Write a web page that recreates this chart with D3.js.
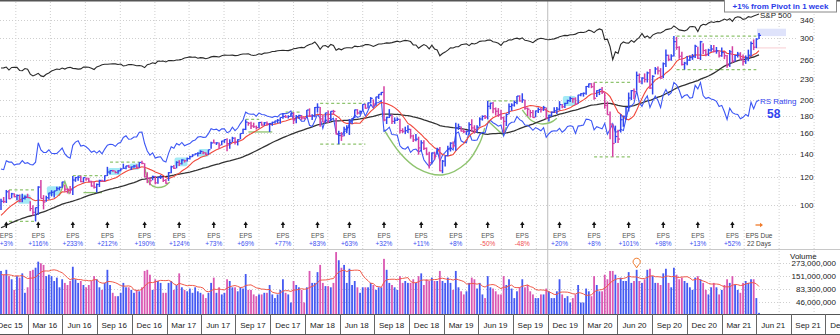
<!DOCTYPE html>
<html>
<head>
<meta charset="utf-8">
<script src="https://cdn.jsdelivr.net/npm/d3@7"></script>
<style>
  html, body { margin: 0; padding: 0; background: #fff; }
  svg { display: block; font-family: "Liberation Sans", Arial, sans-serif; }
</style>
</head>
<body>
<svg id="chart" width="840" height="335"></svg>
<script>
// ---- Weekly bars, week ending Fridays from 2015-10-23 to 2021-04-09 ----
const firstWeek = "2015-10-23";

const high = [
  // 2015
  103.8,105.1,110.1,110.0,108.0,107.7,106.9,106.8,107.4,106.1,107.4,
  // 2016
  102.2,99.5,98.0,112.8,117.6,106.4,106.0,108.1,109.9,109.5,112.5,112.6,116.3,114.0,111.3,113.0,120.8,119.9,121.0,120.9,
  119.7,119.5,119.4,117.0,116.4,114.9,117.8,117.8,121.3,128.3,125.2,125.7,125.0,125.4,127.0,131.0,129.2,130.0,128.5,129.8,
  130.4,132.3,133.5,131.4,123.8,119.5,121.0,120.8,120.1,121.5,119.9,118.3,
  // 2017
  123.9,129.3,129.9,133.1,133.9,134.8,134.5,136.5,138.0,139.4,140.2,141.2,143.1,142.3,141.2,143.8,151.5,153.6,151.0,150.7,
  152.5,153.9,155.0,153.9,156.5,155.9,154.0,160.0,165.0,175.5,172.6,173.0,171.9,168.6,172.5,173.0,172.5,173.3,171.4,172.9,
  174.0,176.0,177.9,182.9,180.8,180.5,183.0,184.2,180.8,181.0,180.8,178.0,
  // 2018
  187.0,188.9,181.6,190.7,195.3,190.6,180.5,183.4,186.1,185.4,187.0,177.2,162.9,161.4,167.3,168.8,176.0,177.1,187.3,187.9,
  186.3,194.1,194.6,196.3,203.5,200.4,203.9,207.4,210.4,218.6,178.9,187.9,181.5,177.9,177.9,176.2,165.6,167.3,168.8,165.0,
  158.7,159.3,156.6,153.0,152.9,145.9,141.7,141.0,141.8,145.5,146.2,134.2,
  // 2019
  138.1,147.4,150.9,151.7,171.7,170.7,167.6,164.8,163.1,172.2,175.8,168.9,168.9,178.0,180.3,180.9,198.5,196.2,197.0,190.0,
  189.2,187.3,179.0,182.7,195.0,195.3,198.9,204.9,206.0,208.7,199.8,190.0,187.0,186.8,186.2,190.0,189.5,192.0,190.0,181.2,
  185.0,190.2,190.5,198.1,194.3,196.0,200.0,203.8,202.7,203.1,206.7,208.9,
  // 2020
  209.8,218.9,222.6,223.2,224.2,213.0,214.6,217.4,209.8,197.7,185.1,170.0,168.5,164.0,181.9,180.0,190.5,209.7,213.3,215.5,
  240.9,237.9,232.0,238.0,240.9,245.2,235.2,248.2,249.1,246.5,255.9,278.9,269.5,270.0,304.7,302.9,284.8,274.7,257.0,267.0,
  267.9,270.7,287.6,284.0,295.2,290.6,279.3,280.2,287.2,287.4,283.5,275.2,282.4,
  // 2021
  275.0,268.8,277.9,284.9,268.9,274.4,273.9,269.7,268.0,278.5,294.0,298.0,300.4,310.9
];

const low = [
  // 2015
  96.5,100.9,101.0,103.5,104.2,104.8,102.9,101.5,101.5,103.4,104.4,
  // 2016
  95.7,93.0,89.4,93.4,104.0,96.8,101.8,103.3,105.5,104.7,109.3,109.8,111.8,108.8,107.6,107.6,106.4,116.2,117.0,115.8,
  115.7,117.1,116.0,112.5,111.1,108.2,112.3,116.0,116.6,120.7,122.1,124.2,122.9,122.6,124.5,126.6,126.2,127.5,125.6,127.6,
  126.6,127.6,130.4,119.8,115.2,113.6,117.4,114.3,114.7,118.4,116.1,114.8,
  // 2017
  116.9,123.0,126.4,127.0,129.0,130.2,132.0,133.0,134.6,136.8,138.4,137.3,139.7,139.4,138.8,139.0,144.6,149.9,148.3,144.4,
  147.9,150.3,142.2,144.6,151.2,148.6,147.8,153.9,159.5,163.6,168.4,164.9,166.0,164.2,165.5,168.4,168.6,168.5,161.6,168.3,
  171.0,171.2,170.6,176.2,177.3,176.5,178.5,170.2,171.2,176.4,175.0,175.8,
  // 2018
  177.6,178.7,174.8,178.0,183.7,167.2,172.3,171.6,171.5,173.7,181.2,159.0,149.0,152.3,157.1,160.3,158.4,170.2,177.0,181.2,
  181.4,186.6,188.4,189.0,195.6,190.2,192.2,201.0,205.9,173.5,170.3,177.2,170.3,170.5,173.7,160.0,160.5,159.3,160.4,154.6,
  151.1,152.0,139.0,142.3,143.5,138.5,126.9,131.2,134.5,139.1,124.6,123.0,
  // 2019
  128.6,137.5,142.0,145.3,142.8,163.8,162.0,160.3,158.3,161.2,161.6,159.9,160.8,167.5,174.2,176.0,175.5,187.8,182.8,180.0,
  178.6,175.2,160.8,168.0,181.6,185.9,191.1,194.0,197.5,196.0,187.1,179.6,177.8,177.4,178.0,183.1,183.8,185.7,176.0,173.3,
  178.8,183.2,182.0,186.3,189.0,189.4,194.5,197.0,196.0,193.2,194.6,204.7,
  // 2020
  204.1,206.8,216.5,215.9,200.1,203.5,206.2,207.7,188.5,181.0,154.0,137.1,150.3,150.3,161.0,167.2,175.0,185.0,199.5,200.5,
  212.2,223.8,221.6,224.2,224.1,214.8,207.1,236.5,236.3,229.7,230.7,248.5,258.1,259.0,266.3,278.2,262.2,250.7,244.1,251.4,
  258.2,260.3,263.7,261.8,260.0,270.4,266.5,267.0,274.7,273.4,271.2,264.3,265.6,
  // 2021
  261.5,247.0,248.5,255.4,257.3,264.4,259.8,250.8,253.5,258.0,266.0,277.7,281.2,299.0
];

const close = [
  // 2015
  102.19,101.97,108.76,103.94,107.32,105.45,106.18,102.24,104.04,105.02,104.66,
  // 2016
  97.33,94.97,97.94,112.21,104.07,101.61,104.57,107.92,108.39,109.41,111.02,112.05,116.06,110.63,110.51,110.10,117.58,119.49,119.81,116.35,
  119.47,118.47,116.62,113.02,112.08,114.19,117.24,116.86,121.00,123.94,125.15,124.96,123.56,124.96,126.51,127.10,129.07,127.96,128.27,128.99,
  127.88,132.07,131.29,120.00,119.02,117.02,120.38,115.40,119.68,119.87,117.27,115.05,
  // 2017
  123.41,128.34,127.04,132.18,130.98,134.19,133.53,135.44,137.17,138.71,139.84,140.34,142.05,140.78,139.39,143.68,150.25,150.24,150.33,148.06,
  152.13,153.63,149.60,150.64,155.07,150.98,153.50,159.97,164.43,172.45,171.18,168.08,167.24,166.32,172.02,169.15,171.64,170.54,170.87,172.23,
  173.74,174.60,177.88,178.92,178.46,179.00,182.78,175.10,179.00,180.18,177.20,176.46,
  // 2018
  186.85,179.37,179.51,190.00,190.28,176.11,172.43,183.29,176.62,185.23,185.09,159.39,159.79,157.20,164.52,166.28,173.59,176.61,186.99,183.20,
  184.92,193.99,189.10,195.85,201.74,194.32,203.70,207.32,209.94,174.89,177.78,180.26,173.29,174.65,175.73,163.04,162.32,162.93,164.46,157.33,
  153.35,154.05,145.37,150.35,144.96,139.53,131.73,140.61,137.42,144.06,124.95,133.20,
  // 2019
  138.05,144.20,150.04,147.47,165.71,167.33,162.50,161.89,162.28,169.60,165.98,164.34,166.69,176.02,179.10,178.28,191.49,195.47,188.34,185.30,
  180.87,177.47,173.35,181.33,191.14,193.00,196.40,204.87,198.36,199.75,189.02,187.85,183.70,177.75,185.67,187.49,187.19,189.93,177.10,180.45,
  184.19,185.85,187.89,193.62,190.84,195.10,198.82,201.64,201.05,194.11,206.30,208.10,
  // 2020
  208.67,218.30,222.14,217.94,201.91,212.33,214.18,210.18,192.47,181.09,170.28,149.73,156.79,154.18,175.19,179.24,190.07,202.27,212.35,210.88,
  234.91,225.09,230.77,228.58,238.79,216.08,233.42,245.07,242.03,230.71,253.67,268.44,261.24,267.01,293.66,282.73,266.61,252.53,254.82,259.90,
  264.45,265.93,284.79,263.11,293.41,276.95,269.70,277.81,279.70,275.55,276.40,267.40,273.16,
  // 2021
  267.57,251.36,274.50,258.33,268.10,270.50,261.69,257.62,264.28,268.40,290.11,283.02,298.66,306.18
];

// weekly volume, millions of shares
const volume = [
  // 2015
  190,160,200,150,130,80,150,140,170,70,90,
  // 2016
  190,200,220,290,270,250,150,160,150,120,140,90,130,110,100,120,230,130,110,120,
  100,90,100,120,150,130,90,80,110,200,100,70,60,60,70,110,90,90,80,70,
  80,75,90,190,200,160,80,130,120,110,70,70,
  // 2017
  110,120,80,100,170,90,80,75,85,70,90,75,70,65,55,70,110,140,70,90,
  65,70,130,120,90,90,75,90,85,165,80,80,65,60,65,65,70,70,100,65,
  55,65,80,130,70,65,45,120,100,90,80,45,
  // 2018
  90,190,110,110,180,250,110,95,95,90,110,450,310,220,250,110,210,100,120,90,
  70,90,90,90,110,100,80,90,90,330,200,110,100,90,80,150,110,120,110,110,
  130,110,150,170,100,130,120,140,120,120,190,120,
  // 2019
  110,140,110,80,190,90,75,65,75,110,140,130,85,110,65,55,150,90,85,75,
  65,65,150,100,130,85,55,75,90,130,90,100,75,65,55,55,65,65,85,75,
  55,55,75,130,65,55,60,45,55,65,100,45,
  // 2020
  45,85,75,60,150,100,75,75,160,130,190,190,160,110,140,120,120,180,110,120,
  200,120,110,130,200,210,150,110,110,100,170,210,110,90,220,160,130,140,120,110,
  90,80,140,150,130,110,80,65,90,110,90,65,80,
  // 2021
  100,130,110,150,100,80,70,110,120,110,130,130,55,28
];

// S&P 500 weekly closes, same weeks
const sp500 = [
  // 2015
  2075,2079,2099,2023,2089,2090,2092,2012,2006,2061,2044,
  // 2016
  1922,1880,1907,1940,1880,1865,1918,1948,1999,2022,2050,2036,2073,2048,2081,2092,2065,2058,2047,2052,
  2099,2099,2096,2071,2037,2103,2130,2162,2175,2174,2183,2184,2184,2169,2180,2128,2139,2165,2168,2153,
  2133,2141,2126,2085,2164,2182,2213,2192,2260,2258,2264,2239,
  // 2017
  2277,2275,2271,2295,2297,2316,2351,2367,2383,2373,2378,2344,2363,2355,2329,2349,2384,2399,2391,2382,
  2416,2439,2432,2433,2438,2423,2425,2459,2473,2472,2477,2441,2426,2443,2477,2461,2500,2502,2519,2549,
  2553,2575,2581,2588,2582,2578,2602,2642,2652,2675,2684,2674,
  // 2018
  2743,2786,2810,2873,2762,2620,2732,2747,2691,2786,2752,2588,2641,2604,2656,2670,2670,2663,2728,2712,
  2721,2735,2779,2780,2755,2718,2760,2801,2802,2819,2840,2833,2850,2875,2902,2872,2905,2930,2914,2886,
  2767,2768,2659,2723,2781,2736,2633,2760,2633,2600,2417,2486,
  // 2019
  2532,2596,2671,2665,2707,2708,2776,2793,2804,2743,2822,2800,2834,2893,2907,2905,2940,2946,2881,2860,
  2826,2752,2873,2887,2950,2942,2990,3014,2977,3026,2932,2919,2889,2847,2926,2979,3007,2992,2962,2952,
  2970,2986,3023,3067,3093,3120,3110,3141,3146,3169,3221,3240,
  // 2020
  3235,3265,3330,3295,3226,3328,3380,3338,2954,2972,2711,2305,2541,2489,2790,2875,2837,2831,2930,2864,
  2955,3044,3194,3041,3098,3009,3130,3185,3225,3216,3271,3351,3373,3397,3508,3427,3341,3319,3298,3348,
  3477,3484,3465,3270,3510,3585,3558,3638,3699,3663,3709,3703,3756,
  // 2021
  3825,3768,3841,3714,3887,3934,3907,3811,3842,3943,3913,3975,4020,4074
];

// closes and volumes of the weeks before the first bar (seed the moving averages)
const priorClose = [
  77.65,75.91,74.99,75.74,80.20,78.97,80.01,78.05,83.80,83.01,81.56,82.04,82.04,84.63,78.81,78.10,80.41,80.55,79.19,82.44,
  81.28,82.51,87.61,87.55,87.95,94.97,96.95,94.01,94.30,94.19,86.06,91.01,88.26,92.90,94.40,92.77,92.07,93.24,97.54
];
const priorVolume = [160,210,150,160,140,130,150,140,170];

// earnings reports
const epsDates = [
  "2015-11-04","2016-01-27","2016-04-27","2016-07-27","2016-11-02","2017-02-01","2017-05-03","2017-07-26",
  "2017-11-01","2018-01-31","2018-04-25","2018-07-25","2018-10-30","2019-01-30","2019-04-24","2019-07-24",
  "2019-10-30","2020-01-29","2020-04-29","2020-07-30","2020-10-29","2021-01-27"
];
const epsChange = [3,116,233,212,190,124,73,69,77,83,63,32,11,8,-50,-48,20,8,101,98,13,52];
const epsDueDays = 22;

// axis ticks
const priceTicks = [100,120,140,160,180,200,230,260,300,340];
const volumeTicks = [46e6, 83.3e6, 151e6, 273e6];

// base annotations: [from, to, price, style]
const baseLines = [
  ["2015-11-13","2016-01-22",110.1,"dash"],
  ["2015-11-13","2016-01-22",89.4,"dash"],
  ["2016-04-29","2016-07-15",121.0,"dash"],
  ["2016-05-27","2016-07-15",108.2,"solid"],
  ["2016-08-05","2016-10-21",132.3,"dash"],
  ["2017-07-28","2017-09-01",175.5,"dash"],
  ["2017-08-04","2017-10-06",161.6,"solid"],
  ["2017-11-10","2017-12-22",184.2,"dash"],
  ["2018-02-09","2018-06-08",195.3,"dash"],
  ["2018-02-09","2018-06-08",149.0,"dash"],
  ["2019-04-26","2019-07-19",198.5,"dash"],
  ["2020-01-31","2020-05-08",224.2,"dash"],
  ["2020-01-31","2020-05-08",137.1,"dash"],
  ["2020-09-04","2021-04-02",304.7,"dash"],
  ["2020-09-04","2021-04-02",244.1,"dash"]
];
// curved pattern outlines: [date, price] points
const cupPaths = [
  { smooth: false, pts: [["2016-03-24",106],["2016-04-08",116.5],["2016-04-20",107]] },
  { smooth: true,  pts: [["2016-11-04",128],["2016-11-17",115],["2016-12-05",112],["2016-12-27",113],["2017-01-09",116]] },
  { smooth: true,  pts: [["2018-07-27",164],["2018-09-07",140.6],["2018-10-22",127.3],["2018-12-28",121.6],["2019-03-01",131.6],["2019-04-05",150.3],["2019-04-18",166]] },
  { smooth: false, pts: [["2019-04-26",174],["2019-06-05",158.5],["2019-06-14",167]] },
  { smooth: true,  pts: [["2019-07-26",187],["2019-08-20",174],["2019-09-13",170.5],["2019-10-08",172],["2019-10-25",177]] }
];
// tight weekly closes
const tightRanges = [
  ["2015-12-11","2015-12-31"],["2016-02-26","2016-03-18"],["2016-08-05","2016-08-26"],["2016-09-30","2016-10-14"],
  ["2017-01-27","2017-02-17"],["2017-03-31","2017-04-13"],["2019-11-15","2019-12-06"]
];
const pivotPrice = 304.7;
const rsRating = 58;
const markerWeek = "2020-05-22";
const dividerDate = "2019-10-01";

// ---------------- drawing ----------------
const W = 840, H = 335;
const VOL_TOP = 250, VOL_BOTTOM = 314, AXIS_BOTTOM = 334;
const BLUE = "#3146ee", PINK = "#d43fa2", VBLUE = "#4459f2", VPINK = "#da58b2";
const GREEN = "#8fc46f", GRID = "#cfcfcf";

const parse = d3.utcParse("%Y-%m-%d");
const t0 = parse(firstWeek);
const weeks = close.map((c, i) => d3.utcDay.offset(t0, 7 * i));
const lastWeek = weeks[weeks.length - 1];

const x = d3.scaleUtc().domain([t0, lastWeek]).range([1, 759]);
const yP = d3.scaleLog().domain([100, 340]).range([204.5, 19.5]);
const ySP = d3.scaleLog().domain([sp500[0], sp500[sp500.length - 1]]).range([68, 14]);
const rs = close.map((c, i) => c / sp500[i]);
const yRS = d3.scaleLog().domain([rs[0], rs[rs.length - 1]]).range([169, 100]);
const yV = d3.scaleLog().domain([46e6, 273e6]).range([302, 263]);

const svg = d3.select("#chart");
svg.append("rect").attr("width", W).attr("height", H).attr("fill", "#fff");

// vertical quarter gridlines (first of Mar/Jun/Sep/Dec)
const gridMonths = d3.utcMonths(parse("2015-09-01"), parse("2022-01-01"))
  .filter(d => [2, 5, 8, 11].includes(d.getUTCMonth()));
svg.append("g").selectAll("line").data(gridMonths).join("line")
  .attr("x1", d => x(d)).attr("x2", d => x(d))
  .attr("y1", 2).attr("y2", VOL_BOTTOM)
  .attr("stroke", GRID).attr("stroke-width", 1).attr("stroke-dasharray", "1,2");

// horizontal price gridlines + labels
const gP = svg.append("g");
gP.selectAll("line").data(priceTicks).join("line")
  .attr("x1", 0).attr("x2", 796)
  .attr("y1", d => Math.round(yP(d)) + 0.5).attr("y2", d => Math.round(yP(d)) + 0.5)
  .attr("stroke", GRID).attr("stroke-dasharray", "1,2");
gP.selectAll("text").data(priceTicks).join("text")
  .attr("x", 800).attr("y", d => yP(d) + 3)
  .attr("font-size", 8).attr("fill", "#222").text(d => d);

// volume pane frame, gridlines, labels
svg.append("line").attr("x1", 0).attr("x2", W).attr("y1", VOL_TOP - 0.5).attr("y2", VOL_TOP - 0.5)
  .attr("stroke", "#c8c8c8");
const gV = svg.append("g");
gV.selectAll("line").data(volumeTicks).join("line")
  .attr("x1", 0).attr("x2", 790)
  .attr("y1", d => Math.round(yV(d)) + 0.5).attr("y2", d => Math.round(yV(d)) + 0.5)
  .attr("stroke", GRID).attr("stroke-dasharray", "1,2");
gV.selectAll("text").data(volumeTicks).join("text")
  .attr("x", 836).attr("y", d => yV(d) + 3).attr("text-anchor", "end")
  .attr("font-size", 8).attr("fill", "#222").text(d => d3.format(",")(d));
gV.append("text").attr("x", 790).attr("y", 258.5).attr("font-size", 8).attr("fill", "#222").text("Volume");

// divider line
svg.append("line").attr("x1", x(parse(dividerDate))).attr("x2", x(parse(dividerDate)))
  .attr("y1", 1).attr("y2", VOL_BOTTOM).attr("stroke", "#bdbdbd").attr("stroke-width", 1);

// S&P 500 line
svg.append("path").datum(sp500)
  .attr("d", d3.line().x((d, i) => x(weeks[i])).y(d => ySP(d)))
  .attr("fill", "none").attr("stroke", "#2a2a2a").attr("stroke-width", 1.1);
svg.append("text").attr("x", 760).attr("y", 18).attr("font-size", 8).attr("fill", "#222").text("S&P 500");

// buy zone / sell zone boxes beyond last bar
svg.append("rect").attr("x", 757).attr("width", 29)
  .attr("y", yP(pivotPrice * 1.05)).attr("height", yP(pivotPrice) - yP(pivotPrice * 1.05))
  .attr("fill", "#dfe3fb");
svg.append("rect").attr("x", 757).attr("width", 29)
  .attr("y", yP(pivotPrice * 0.93)).attr("height", yP(pivotPrice * 0.92) - yP(pivotPrice * 0.93))
  .attr("fill", "#fbe1e4");

// tight-area highlights
const idxOf = s => d3.bisectLeft(weeks, parse(s));
tightRanges.forEach(([a, b]) => {
  const i0 = idxOf(a), i1 = idxOf(b);
  const cs = close.slice(i0, i1 + 1);
  const yTop = yP(d3.max(cs)) - 2.5, yBot = yP(d3.min(cs)) + 2.5;
  svg.append("rect").attr("x", x(weeks[i0]) - 2).attr("width", x(weeks[i1]) - x(weeks[i0]) + 5)
    .attr("y", yTop).attr("height", yBot - yTop).attr("rx", 2)
    .attr("fill", "#93e6f3").attr("opacity", 0.85);
});

// base lines
svg.append("g").selectAll("line").data(baseLines).join("line")
  .attr("x1", d => x(parse(d[0]))).attr("x2", d => x(parse(d[1])))
  .attr("y1", d => yP(d[2])).attr("y2", d => yP(d[2]))
  .attr("stroke", GREEN).attr("stroke-width", 1.3)
  .attr("stroke-dasharray", d => d[3] === "dash" ? "3,2.5" : null);

// cup outlines
cupPaths.forEach(c => {
  svg.append("path").datum(c.pts)
    .attr("d", d3.line().x(d => x(parse(d[0]))).y(d => yP(d[1]))
      .curve(c.smooth ? d3.curveCatmullRom : d3.curveLinear))
    .attr("fill", "none").attr("stroke", GREEN).attr("stroke-width", 1.4);
});

// moving averages
const allClose = priorClose.concat(close);
const n0 = priorClose.length;
const sma = n => close.map((c, i) => d3.mean(allClose.slice(i + n0 - n + 1, i + n0 + 1)));
const ma10 = sma(10), ma40 = sma(40);
const lineP = d3.line().x((d, i) => x(weeks[i])).y(d => yP(d));
svg.append("path").datum(ma40).attr("d", lineP)
  .attr("fill", "none").attr("stroke", "#333").attr("stroke-width", 1.3);

// RS line
svg.append("path").datum(rs)
  .attr("d", d3.line().x((d, i) => x(weeks[i])).y(d => yRS(d)))
  .attr("fill", "none").attr("stroke", "#3d57f4").attr("stroke-width", 1.1);

svg.append("path").datum(ma10).attr("d", lineP)
  .attr("fill", "none").attr("stroke", "#f0483c").attr("stroke-width", 1.1);

// price bars
const prevClose = i => i === 0 ? priorClose[n0 - 1] : close[i - 1];
const up = close.map((c, i) => c >= prevClose(i));
const gB = svg.append("g");
gB.selectAll("line.hl").data(close).join("line").attr("class", "hl")
  .attr("x1", (d, i) => x(weeks[i])).attr("x2", (d, i) => x(weeks[i]))
  .attr("y1", (d, i) => yP(high[i])).attr("y2", (d, i) => yP(low[i]))
  .attr("stroke", (d, i) => up[i] ? BLUE : PINK).attr("stroke-width", 1.5);
gB.selectAll("line.cl").data(close).join("line").attr("class", "cl")
  .attr("x1", (d, i) => x(weeks[i])).attr("x2", (d, i) => x(weeks[i]) + 2)
  .attr("y1", d => yP(d)).attr("y2", d => yP(d))
  .attr("stroke", (d, i) => up[i] ? BLUE : PINK).attr("stroke-width", 1.2);

// RS rating
svg.append("text").attr("x", 760).attr("y", 104).attr("font-size", 8).attr("fill", "#3344ee").text("RS Rating");
svg.append("text").attr("x", 767).attr("y", 118).attr("font-size", 12).attr("font-weight", "bold")
  .attr("fill", "#3344ee").text(rsRating);

// earnings row
const gE = svg.append("g");
epsDates.forEach((s, i) => {
  const xe = x(d3.utcFriday.ceil(parse(s)));
  gE.append("path").attr("d", `M${xe - 2.2},225 L${xe},221.5 L${xe + 2.2},225 Z`).attr("fill", "#111");
  gE.append("rect").attr("x", xe - 0.7).attr("y", 224.5).attr("width", 1.4).attr("height", 3.5).attr("fill", "#111");
  gE.append("text").attr("x", xe).attr("y", 238).attr("text-anchor", "middle")
    .attr("font-size", 6.5).attr("fill", "#555").text("EPS");
  const v = epsChange[i];
  gE.append("text").attr("x", xe).attr("y", 245.5).attr("text-anchor", "middle")
    .attr("font-size", 6.5).attr("fill", v < 0 ? "#f05050" : "#3a4ff0")
    .text((v < 0 ? "-" : "+") + Math.abs(v) + "%");
});
{
  const xd = x(lastWeek);
  gE.append("line").attr("x1", xd - 3.5).attr("x2", xd + 2).attr("y1", 225).attr("y2", 225)
    .attr("stroke", "#f07a2a").attr("stroke-width", 1.3);
  gE.append("path").attr("d", `M${xd + 1},222.8 L${xd + 4},225 L${xd + 1},227.2 Z`).attr("fill", "#f07a2a");
  gE.append("text").attr("x", xd).attr("y", 238).attr("text-anchor", "middle")
    .attr("font-size", 6.5).attr("fill", "#444").text("EPS Due");
  gE.append("text").attr("x", xd).attr("y", 245.5).attr("text-anchor", "middle")
    .attr("font-size", 6.5).attr("fill", "#444").text(epsDueDays + " Days");
}

// volume bars
const gVol = svg.append("g");
gVol.selectAll("rect").data(volume).join("rect")
  .attr("x", (d, i) => x(weeks[i]) - 0.9).attr("width", 1.8)
  .attr("y", d => yV(d * 1e6)).attr("height", d => Math.max(0.5, VOL_BOTTOM - yV(d * 1e6)))
  .attr("fill", (d, i) => up[i] ? VBLUE : VPINK);
// 10-week average volume
const allVol = priorVolume.concat(volume);
const m0 = priorVolume.length;
const vAvg = volume.map((v, i) => d3.mean(allVol.slice(i + m0 - 9, i + m0 + 1)));
svg.append("path").datum(vAvg)
  .attr("d", d3.line().x((d, i) => x(weeks[i])).y(d => yV(d * 1e6)))
  .attr("fill", "none").attr("stroke", "#f05a4a").attr("stroke-width", 1);
// heavy-volume marker
{
  const mi = idxOf(markerWeek);
  const mx = x(weeks[mi]), my = yV(volume[mi] * 1e6) - 8;
  svg.append("path").attr("d", `M${mx},${my + 6} L${mx - 2},${my + 3} A3.6,3.6 0 1 1 ${mx + 2},${my + 3} Z`)
    .attr("fill", "none").attr("stroke", "#f07a2a").attr("stroke-width", 1);
}

// date axis band: calendar-quarter boxes labelled by their last month
const quarters = d3.utcMonths(parse("2015-10-01"), parse("2022-04-01"), 3);
const gA = svg.append("g");
gA.append("rect").attr("x", 0).attr("y", VOL_BOTTOM).attr("width", W).attr("height", AXIS_BOTTOM - VOL_BOTTOM)
  .attr("fill", "#fff");
gA.append("line").attr("x1", 0).attr("x2", W).attr("y1", VOL_BOTTOM + 0.5).attr("y2", VOL_BOTTOM + 0.5)
  .attr("stroke", "#555");
gA.append("line").attr("x1", 0).attr("x2", W).attr("y1", AXIS_BOTTOM + 0.5).attr("y2", AXIS_BOTTOM + 0.5)
  .attr("stroke", "#555");
gA.selectAll("line.q").data(quarters).join("line").attr("class", "q")
  .attr("x1", d => Math.round(x(d)) + 0.5).attr("x2", d => Math.round(x(d)) + 0.5)
  .attr("y1", VOL_BOTTOM).attr("y2", AXIS_BOTTOM)
  .attr("stroke", "#666");
const fmtQ = d3.utcFormat("%b %y");
gA.selectAll("text").data(quarters.slice(0, -1)).join("text")
  .attr("x", (d, i) => (x(d) + x(quarters[i + 1])) / 2).attr("y", 327.5)
  .attr("text-anchor", "middle").attr("font-size", 8).attr("fill", "#222")
  .text(d => fmtQ(d3.utcMonth.offset(d, 2)));

// top frame
svg.append("line").attr("x1", 0).attr("x2", W).attr("y1", 0.75).attr("y2", 0.75)
  .attr("stroke", "#555").attr("stroke-width", 1.5);

// pivot note
svg.append("rect").attr("x", 724.5).attr("y", -1).attr("width", 112).attr("height", 13)
  .attr("fill", "#fff").attr("stroke", "#888").attr("stroke-width", 1);
svg.append("text").attr("x", 780.5).attr("y", 8.5).attr("text-anchor", "middle")
  .attr("font-size", 8).attr("font-weight", "bold").attr("fill", "#2a3ce8")
  .text("+1% from Pivot in 1 week");
</script>
</body>
</html>
